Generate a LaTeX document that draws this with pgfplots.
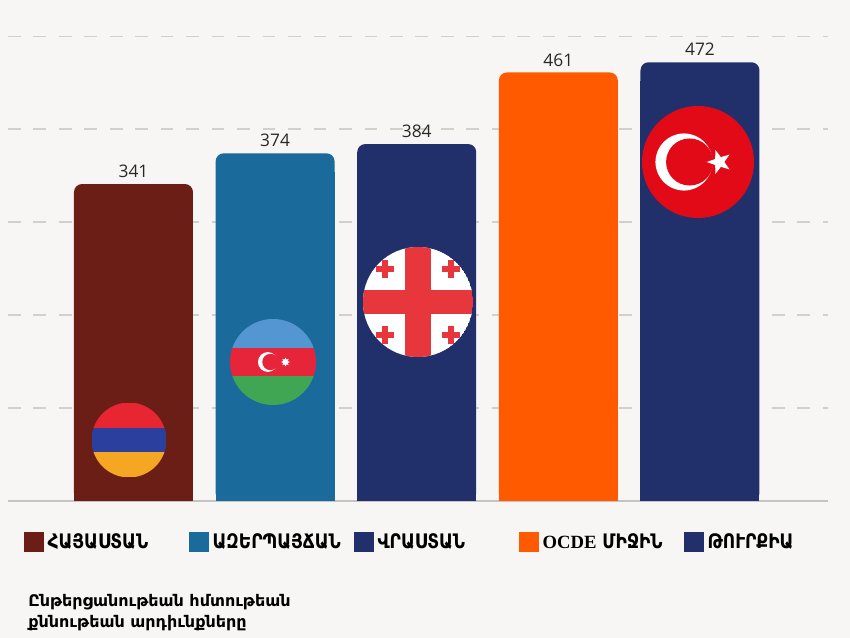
\documentclass[border=0pt]{standalone}
\usepackage{pgfplots}
\pgfplotsset{compat=1.18}
\usepackage{pgfplotstable}
\usepackage{fontspec}
\usetikzlibrary{shapes.geometric}
\setmainfont{DejaVu Sans}
\newfontfamily\armfont[FakeStretch=0.85]{DejaVu Sans Bold}
\newfontfamily\notefont{DejaVu Sans Bold}
\newfontfamily\numfont{Open Sans}
\newfontfamily\serfont{Liberation Serif Bold}

\definecolor{bg}{RGB}{247,246,244}
\definecolor{gridc}{RGB}{208,208,208}
\definecolor{basec}{RGB}{196,196,196}
\definecolor{txt}{RGB}{40,40,40}
\definecolor{cARM}{RGB}{107,30,22}
\definecolor{cAZE}{RGB}{27,106,156}
\definecolor{cGEO}{RGB}{33,48,107}
\definecolor{cOCDE}{RGB}{255,90,0}
\definecolor{cTUR}{RGB}{33,48,107}
% flag colours
\definecolor{amred}{RGB}{232,38,50}
\definecolor{amblue}{RGB}{43,63,158}
\definecolor{amorange}{RGB}{245,166,35}
\definecolor{azlight}{RGB}{84,150,210}
\definecolor{azred}{RGB}{230,36,58}
\definecolor{azgreen}{RGB}{64,166,84}
\definecolor{geored}{RGB}{232,55,60}
\definecolor{trred}{RGB}{227,10,23}

\pgfplotstableread{
x v
0 341
1 374
2 384
3 461
4 472
}\scores

\pgfplotsset{
  sqbar/.style={ybar, bar width=0.84, bar shift=0pt, fill=#1, draw=none,
    sharp corners, forget plot},
  rbar/.style={ybar, bar width=0.84, bar shift=0pt, fill=#1, draw=none,
    rounded corners=6pt, point meta=explicit symbolic, nodes near coords,
    every node near coord/.append style={font=\numfont\fontsize{13}{15}\selectfont,
      text=txt, anchor=south, inner sep=0pt, yshift=4.5pt, sharp corners},
    legend image code/.code={\fill[#1, sharp corners] (0pt,-7.25pt) rectangle (14.5pt,7.25pt);}},
}

% one bar: index, colour, legend text
\newcommand{\onebar}[3]{%
  \addplot[sqbar=#2, restrict x to domain=#1:#1] table[x=x, y expr=\thisrow{v}-20] {\scores};
  \addplot[rbar=#2, restrict x to domain=#1:#1] table[x=x, y=v, meta=v] {\scores};
  \addlegendentry{\makebox[106.25pt][l]{#3}}
}

\begin{document}
\begin{tikzpicture}
\fill[bg] (-6pt,-102.75pt) rectangle (631.5pt,375.75pt);
\path[use as bounding box] (-6pt,-102.75pt) rectangle (631.5pt,375.75pt);
\begin{axis}[
  at={(0pt,0pt)}, anchor=south west,
  scale only axis, width=615pt, height=375.75pt,
  xmin=-0.886, xmax=4.904, ymin=0, ymax=539,
  axis line style={draw=none},
  xtick=\empty,
  ytick={100,200,300,400,500}, yticklabels={}, major tick length=0pt,
  ymajorgrids,
  grid style={draw=gridc, line width=1.1pt, dash pattern=on 9.5pt off 9.6pt},
  extra y ticks={0}, extra y tick labels={},
  extra y tick style={grid style={draw=basec, line width=1.1pt, solid}},
  clip=false,
  legend style={at={(0.0195,-0.0818)}, anchor=west, draw=none, fill=none,
    inner sep=0pt, nodes={inner sep=0pt}, column sep=0pt,
    font=\armfont\fontsize{15}{18}\selectfont,
    /tikz/every odd column/.append style={column sep=3pt}},
  legend columns=5,
  legend cell align=left,
]
\onebar{0}{cARM}{ՀԱՅԱՍՏԱՆ}
\onebar{1}{cAZE}{ԱԶԵՐՊԱՅՃԱՆ}
\onebar{2}{cGEO}{ՎՐԱՍՏԱՆ}
\onebar{3}{cOCDE}{{\serfont\fontsize{14}{16}\selectfont OCDE} ՄԻՋԻՆ}
\onebar{4}{cTUR}{ԹՈՒՐՔԻԱ}
\end{axis}

% Armenia
\begin{scope}[shift={(90.75pt,45.75pt)}, x=28.1pt, y=28.1pt]
  \clip (0,0) circle[radius=1];
  \fill[amred] (-1,1/3) rectangle (1,1);
  \fill[amblue] (-1,-1/3) rectangle (1,1/3);
  \fill[amorange] (-1,-1) rectangle (1,-1/3);
\end{scope}
% Azerbaijan
\begin{scope}[shift={(198.75pt,104.25pt)}, x=32.25pt, y=32.25pt]
  \clip (0,0) circle[radius=1];
  \fill[azlight] (-1,1/3) rectangle (1,1);
  \fill[azred] (-1,-1/3) rectangle (1,1/3);
  \fill[azgreen] (-1,-1) rectangle (1,-1/3);
  \fill[white] (-0.12,0) circle[radius=0.23];
  \fill[azred] (-0.06,0) circle[radius=0.19];
  \node[star, star points=8, star point ratio=1.7, fill=white, inner sep=0pt,
    minimum size=6.5pt] at (0.29,0) {};
\end{scope}
% Georgia
\begin{scope}[shift={(307.5pt,149.25pt)}, x=41.25pt, y=41.25pt]
  \clip (0,0) circle[radius=1];
  \fill[white] (0,0) circle[radius=1];
  \fill[geored] (-1,-0.22) rectangle (1,0.22);
  \fill[geored] (-0.24,-1) rectangle (0.24,1);
  \foreach \sx in {-1,1}{\foreach \sy in {-1,1}{
    \fill[geored] (0.6*\sx-0.16,0.6*\sy-0.055) rectangle (0.6*\sx+0.16,0.6*\sy+0.055);
    \fill[geored] (0.6*\sx-0.055,0.6*\sy-0.16) rectangle (0.6*\sx+0.055,0.6*\sy+0.16);
  }}
\end{scope}
% Turkey
\begin{scope}[shift={(517.5pt,254.25pt)}, x=42pt, y=42pt]
  \fill[trred] (0,0) circle[radius=1];
  \fill[white] (-0.25,0) circle[radius=0.51];
  \fill[trred] (-0.15,0) circle[radius=0.42];
  \node[star, star points=5, star point ratio=2.5, fill=white, inner sep=0pt,
    minimum size=19pt, rotate=90] at (0.38,0) {};
\end{scope}

% note
\node[anchor=base west, inner sep=0pt, font=\notefont\fontsize{12}{15}\selectfont]
  at (15pt,-79.5pt) {Ընթերցանութեան հմտութեան};
\node[anchor=base west, inner sep=0pt, font=\notefont\fontsize{12}{15}\selectfont]
  at (15pt,-95.25pt) {քննութեան արդիւնքները};
\end{tikzpicture}
\end{document}
